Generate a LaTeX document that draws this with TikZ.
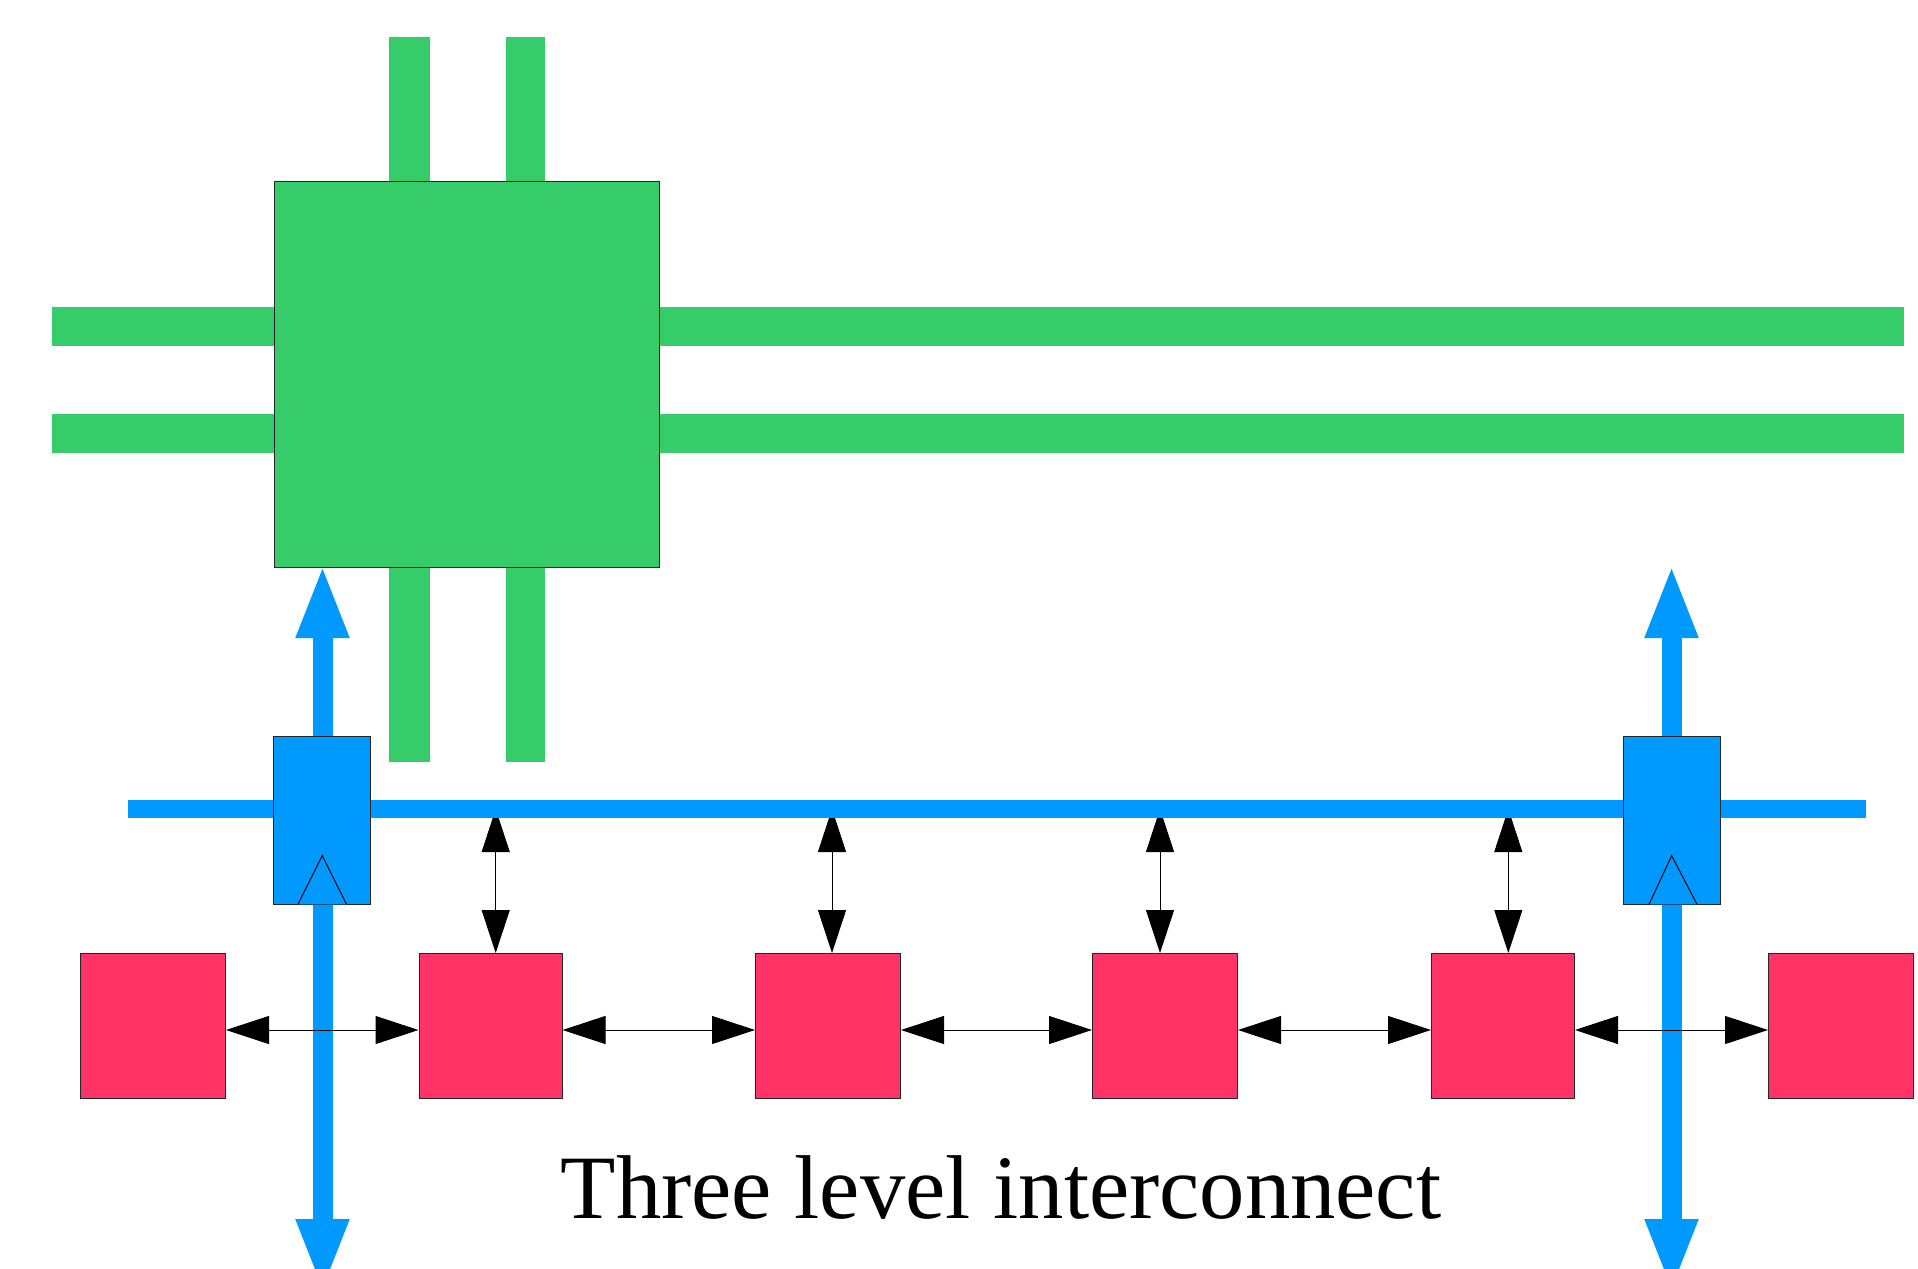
\documentclass[tikz,border=0pt]{standalone}
\usepackage{fontspec}
\setmainfont{Liberation Serif}
\usetikzlibrary{arrows.meta}
\definecolor{gr}{HTML}{36CC69}
\definecolor{bl}{HTML}{0099FF}
\definecolor{rd}{HTML}{FF3366}
\begin{document}
\begin{tikzpicture}[x=1pt,y=-1pt,
  greenbar/.style={fill=gr},
  router/.style={draw=black!85, fill=gr, line width=1pt, minimum width=385pt, minimum height=385pt, inner sep=0pt},
  bridge/.style={draw=black!85, fill=bl, line width=1pt, minimum width=97pt, minimum height=168pt, inner sep=0pt},
  core/.style={draw=black!85, fill=rd, line width=1pt, minimum width=145pt, minimum height=145pt, inner sep=0pt},
  bus/.style={draw=bl, line width=18pt},
  bigarrow/.style={draw=bl, line width=20pt, arrows={Triangle[length=74pt,width=48pt]-Triangle[length=74pt,width=48pt]}},
  smallarrow/.style={draw=black, line width=1pt, arrows={Triangle[length=43pt,width=28pt]-Triangle[length=43pt,width=28pt]}},
  tri/.style={draw=black, fill=bl, line width=1pt, line join=miter}
]
\useasboundingbox (0,0) rectangle (1918,1268);

% green level
\fill[greenbar] (52,307) rectangle (1904,346);
\fill[greenbar] (52,414) rectangle (1904,453);
\fill[greenbar] (389,37) rectangle (430,762);
\fill[greenbar] (506,37) rectangle (545,762);
\node[router] (g) at (466.5,374.5) {};

% red cores
\node[core] (r1) at (153,1026) {};
\node[core, minimum width=143pt] (r2) at (490.5,1026) {};
\node[core] (r3) at (828,1026) {};
\node[core] (r4) at (1165,1026) {};
\node[core, minimum width=143pt] (r5) at (1503,1026) {};
\node[core] (r6) at (1841,1026) {};

% vertical links core <-> bus
\coordinate (t2) at (495.7,809);
\coordinate (t3) at (832,809);
\coordinate (t4) at (1160,809);
\coordinate (t5) at (1508.3,809);
\draw[smallarrow] (t2) -- (t2 |- r2.north);
\draw[smallarrow] (t3) -- (t3 |- r3.north);
\draw[smallarrow] (t4) -- (t4 |- r4.north);
\draw[smallarrow] (t5) -- (t5 |- r5.north);

% blue bus
\coordinate (busL) at (128,809);
\coordinate (busR) at (1866,809);
\draw[bus] (busL) -- (busR);

% big blue arrows
\coordinate (lt) at (322.5,564);
\coordinate (lb) at (322.5,1293);
\coordinate (rt) at (1671.5,564);
\coordinate (rb) at (1671.5,1293);
\draw[bigarrow] (lb) -- (lt);
\draw[bigarrow] (rb) -- (rt);

% bridges
\node[bridge] (b1) at (322.3,820.2) {};
\node[bridge] (b2) at (1671.7,820.2) {};
\draw[tri] (298,904.3) -- (322.3,855.7) -- (346.5,904.3);
\draw[tri] (1649,904.3) -- (1671.7,855.7) -- (1697,904.3);

% horizontal links between cores
\draw[smallarrow] (r1.east |- 0,1030) -- (r2.west |- 0,1030);
\draw[smallarrow] (r2.east |- 0,1030) -- (r3.west |- 0,1030);
\draw[smallarrow] (r3.east |- 0,1030) -- (r4.west |- 0,1030);
\draw[smallarrow] (r4.east |- 0,1030) -- (r5.west |- 0,1030);
\draw[smallarrow] (r5.east |- 0,1030) -- (r6.west |- 0,1030);

% title
\node[anchor=base, inner sep=0pt, font=\fontsize{90.6}{100}\selectfont] (title) at (1001,1218) {Three level interconnect};
\end{tikzpicture}
\end{document}
